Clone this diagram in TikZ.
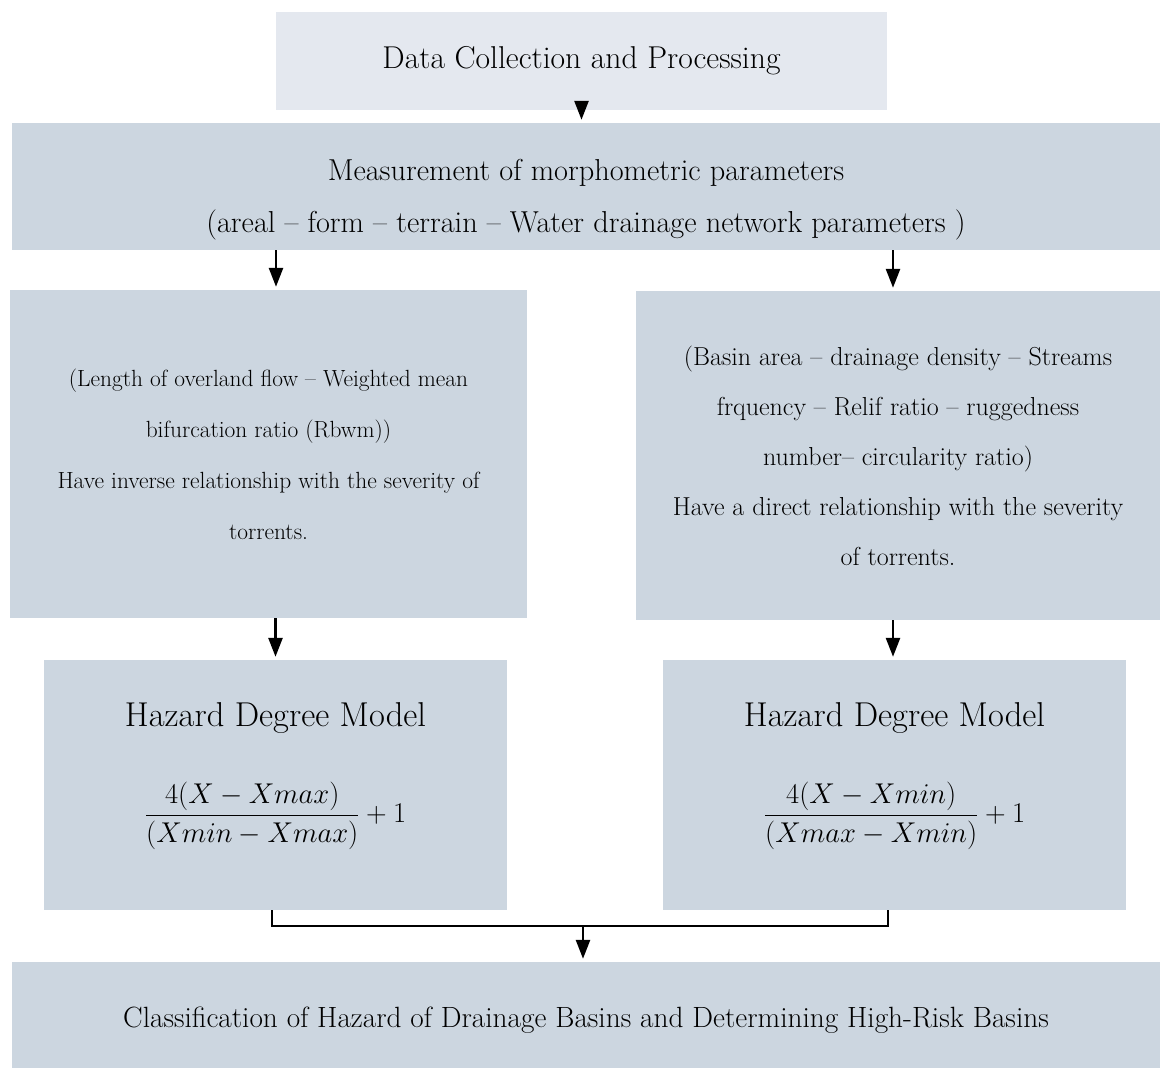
\documentclass[tikz,border=0pt]{standalone}
\usepackage{amsmath}
\usetikzlibrary{positioning,arrows.meta}
\definecolor{paleblue}{RGB}{228,232,239}
\definecolor{greyblue}{RGB}{204,214,224}

\begin{document}
\begin{tikzpicture}[x=1pt, y=-1pt,
  box/.style = {fill=greyblue, align=center, inner sep=0pt},
  hazard/.style = {box, minimum width=463pt, minimum height=250pt, font=\fontsize{34.5}{40}\selectfont},
  arr/.style = {line width=2.6pt, -{Triangle[width=14pt,length=19pt]}, shorten >=3pt}]
  \useasboundingbox (0,0) rectangle (1161,1070);
  \node[box, fill=paleblue, minimum width=611pt, minimum height=98pt, font=\fontsize{31.6}{36}\selectfont] (data) at (581.5,61) {Data Collection and Processing};
  \node[box, minimum width=1148pt, minimum height=127pt, font=\fontsize{30.3}{52}\selectfont] (meas) at (586,186.5)
    {\rule{0pt}{48pt}Measurement of morphometric parameters\\(areal -- form -- terrain -- Water drainage network parameters )};
  \node[box, minimum width=517pt, minimum height=328pt, font=\fontsize{23.4}{51}\selectfont] (inv) at (268.5,454)
    {(Length of overland flow -- Weighted mean\\bifurcation ratio (Rbwm))\\Have inverse relationship with the severity of\\torrents.};
  \node[box, minimum width=524pt, minimum height=329pt, font=\fontsize{26}{50}\selectfont] (dir) at (898,455.5)
    {(Basin area -- drainage density -- Streams\\frquency -- Relif ratio -- ruggedness\\number-- circularity ratio)\\Have a direct relationship with the severity\\of torrents.};
  \node[hazard] (hazL) at (275.5,785)
    {Hazard Degree Model\\[48pt]\scalebox{1.15}{$\dfrac{4(X-Xmax)}{(Xmin-Xmax)}+1$}\rule[-45pt]{0pt}{45pt}};
  \node[hazard] (hazR) at (894.5,785)
    {Hazard Degree Model\\[48pt]\scalebox{1.15}{$\dfrac{4(X-Xmin)}{(Xmax-Xmin)}+1$}\rule[-45pt]{0pt}{45pt}};
  \node[box, minimum width=1148pt, minimum height=106pt, font=\fontsize{29.3}{34}\selectfont] (cls) at (586,1015)
    {\rule{0pt}{30pt}Classification of Hazard of Drainage Basins and Determining High-Risk Basins};
  \coordinate (join) at (583,926);
  \draw[arr] (data.south) -- (data.south |- meas.north);
  \draw[arr] ([xshift=7.5pt]inv.north |- meas.south) -- ([xshift=7.5pt]inv.north);
  \draw[arr] ([xshift=-5pt]dir.north |- meas.south) -- ([xshift=-5pt]dir.north);
  \draw[arr] (hazL.north |- inv.south) -- (hazL.north);
  \draw[arr] ([xshift=-1.5pt]hazR.north |- dir.south) -- ([xshift=-1.5pt]hazR.north);
  \draw[line width=2.6pt] ([xshift=-3.5pt]hazL.south) |- (join) -| ([xshift=-6.5pt]hazR.south);
  \draw[arr] (join) -- (join |- cls.north);
\end{tikzpicture}
\end{document}
